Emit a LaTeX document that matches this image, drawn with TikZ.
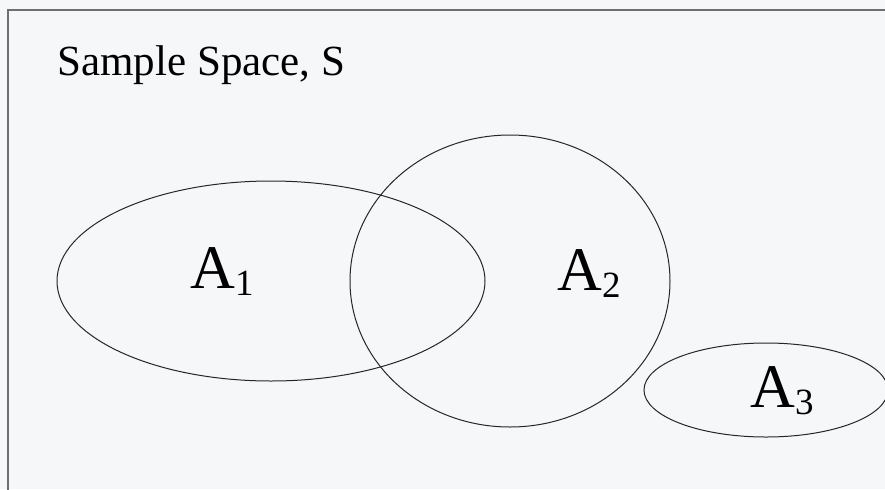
\documentclass[tikz,border=0pt]{standalone}
\usepackage{fontspec}
\setmainfont{Liberation Serif}
\usepackage{tikz}
\usetikzlibrary{shapes.geometric}

\definecolor{paper}{RGB}{246,247,249}
\definecolor{frame}{RGB}{110,110,118}

\newcommand{\setname}[1]{A\raisebox{-3.5pt}{\fontsize{18.5}{22}\selectfont #1}}

\begin{document}
\begin{tikzpicture}[
    x=0.5pt, y=-0.5pt,
    set/.style={ellipse, draw=black!85, line width=0.5pt, inner sep=0pt},
    title/.style={anchor=base west, inner sep=0pt, font=\fontsize{21.5}{26}\selectfont},
    setlabel/.style={anchor=base west, inner sep=0pt, font=\fontsize{31}{36}\selectfont}
]

\fill[paper] (0,0) rectangle (885,489);
\useasboundingbox (0,0) rectangle (885,489);
\clip (0,0) rectangle (885,489);

% sample space
\draw[frame, line width=0.6pt] (8,10) rectangle (900,500);
\node[title] (space) at (57,75) {Sample Space, S};

% events
\node[set, minimum width=214pt, minimum height=100pt] (setA) at (271,281) {};
\node[set, minimum width=160pt, minimum height=146pt] (setB) at (510,281) {};
\node[set, minimum width=122pt, minimum height=47pt] (setC) at (766,390) {};

\node[setlabel] (labA) at (190,288) {\setname{1}};
\node[setlabel] (labB) at (557,290) {\setname{2}};
\node[setlabel] (labC) at (750,407) {\setname{3}};

\end{tikzpicture}
\end{document}
